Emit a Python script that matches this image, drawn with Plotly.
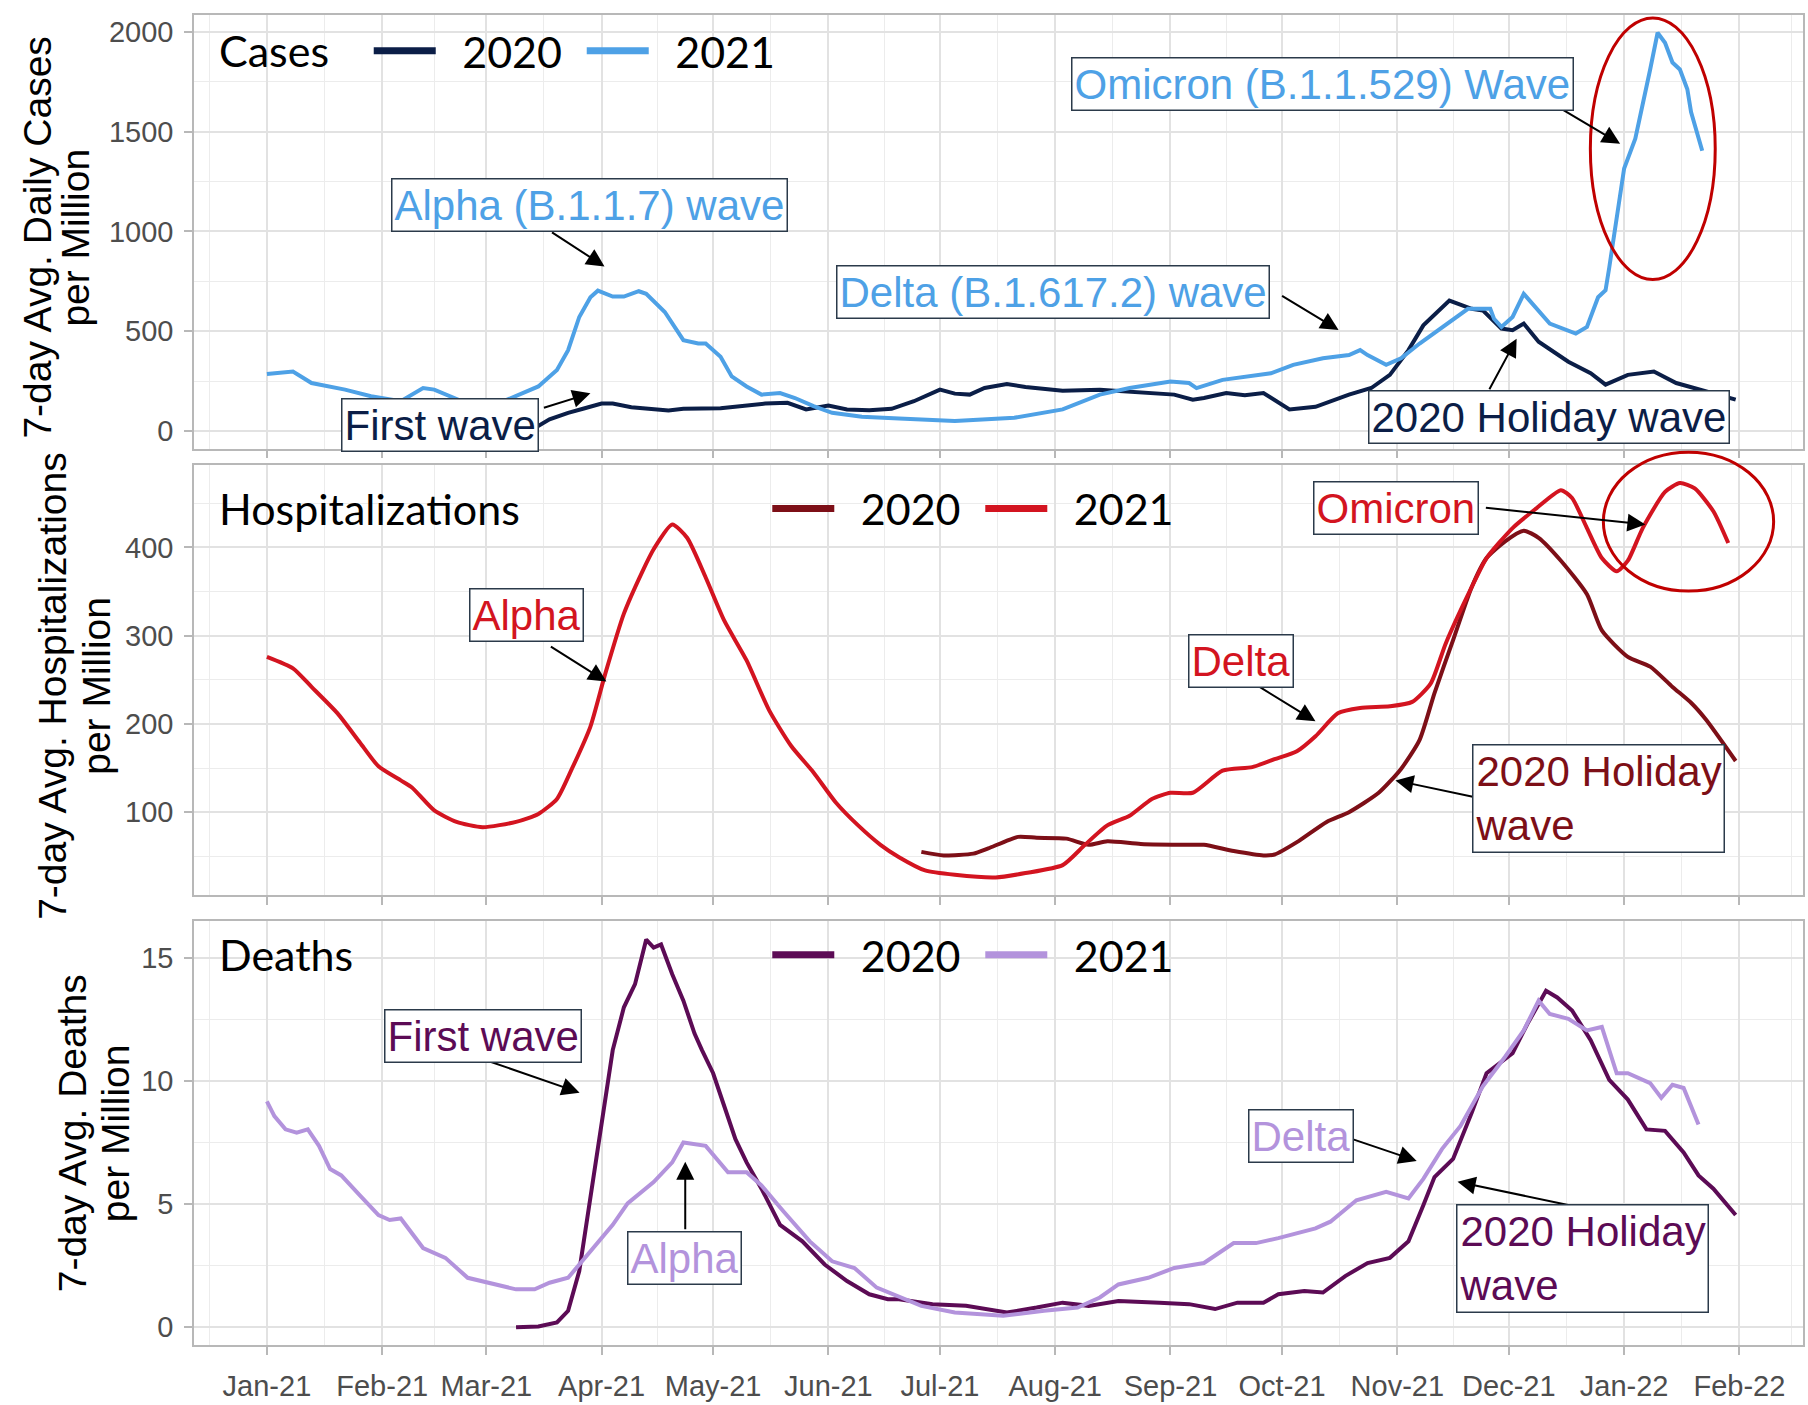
import pandas as pd
import plotly.graph_objects as go
from plotly.subplots import make_subplots

# ------------------------------------------------------------------
# Data: 7-day averages per million. 2020 series are stored on their
# real dates and drawn one year later so both years overlay.
# ------------------------------------------------------------------

CASES_2020_DATES = [
    "2020-03-01", "2020-03-08", "2020-03-12", "2020-03-15", "2020-03-18", "2020-03-23",
    "2020-03-27", "2020-04-01", "2020-04-04", "2020-04-09", "2020-04-19", "2020-04-23",
    "2020-05-03", "2020-05-09", "2020-05-15", "2020-05-21", "2020-05-26", "2020-06-01",
    "2020-06-06", "2020-06-12", "2020-06-18", "2020-06-24", "2020-07-01", "2020-07-05",
    "2020-07-09", "2020-07-13", "2020-07-19", "2020-07-24", "2020-08-03", "2020-08-13",
    "2020-08-24", "2020-09-02", "2020-09-07", "2020-09-10", "2020-09-16", "2020-09-21",
    "2020-09-26", "2020-09-29", "2020-10-03", "2020-10-10", "2020-10-19", "2020-10-25",
    "2020-10-30", "2020-11-04", "2020-11-08", "2020-11-15", "2020-11-21", "2020-11-24",
    "2020-11-29", "2020-12-02", "2020-12-05", "2020-12-09", "2020-12-17", "2020-12-23",
    "2020-12-27", "2021-01-02", "2021-01-09", "2021-01-15", "2021-01-20", "2021-01-25",
    "2021-01-31",
]
CASES_2020 = [
    1, 3, 10, 25, 58, 91, 111, 137, 137, 119, 103, 111, 114, 124, 137, 141, 108, 127,
    108, 104, 111, 149, 207, 187, 182, 215, 235, 220, 202, 207, 194, 182, 157, 165,
    190, 179, 190, 157, 108, 121, 182, 215, 281, 405, 529, 653, 612, 604, 513, 505,
    538, 447, 347, 289, 232, 281, 298, 240, 215, 190, 157,
]

CASES_2021_DATES = [
    "2021-01-01", "2021-01-08", "2021-01-13", "2021-01-22", "2021-01-29", "2021-02-06",
    "2021-02-12", "2021-02-15", "2021-02-22", "2021-03-01", "2021-03-06", "2021-03-09",
    "2021-03-15", "2021-03-20", "2021-03-23", "2021-03-26", "2021-03-29", "2021-03-31",
    "2021-04-04", "2021-04-07", "2021-04-11", "2021-04-13", "2021-04-18", "2021-04-23",
    "2021-04-27", "2021-04-29", "2021-05-03", "2021-05-06", "2021-05-10", "2021-05-14",
    "2021-05-19", "2021-05-23", "2021-05-28", "2021-06-02", "2021-06-10", "2021-06-20",
    "2021-07-05", "2021-07-21", "2021-08-03", "2021-08-13", "2021-08-21", "2021-09-01",
    "2021-09-06", "2021-09-08", "2021-09-15", "2021-09-28", "2021-10-04", "2021-10-12",
    "2021-10-19", "2021-10-22", "2021-10-24", "2021-10-29", "2021-11-02", "2021-11-07",
    "2021-11-13", "2021-11-20", "2021-11-26", "2021-11-27", "2021-11-29", "2021-12-02",
    "2021-12-05", "2021-12-08", "2021-12-12", "2021-12-19", "2021-12-22", "2021-12-25",
    "2021-12-27", "2021-12-28", "2021-12-30", "2022-01-01", "2022-01-04", "2022-01-06",
    "2022-01-08", "2022-01-10", "2022-01-12", "2022-01-14", "2022-01-16", "2022-01-18",
    "2022-01-19", "2022-01-22",
]
CASES_2021 = [
    285, 298, 240, 207, 174, 149, 215, 207, 152, 149, 152, 174, 223, 306, 405, 571,
    670, 703, 673, 673, 700, 687, 596, 455, 438, 438, 372, 273, 223, 182, 190, 165,
    124, 91, 71, 62, 50, 66, 108, 182, 215, 248, 240, 215, 256, 289, 331, 364, 380,
    405, 380, 331, 364, 438, 521, 612, 612, 562, 521, 571, 687, 620, 538, 488, 521,
    670, 705, 819, 1082, 1315, 1464, 1628, 1811, 1995, 1945, 1846, 1811, 1712, 1598,
    1404,
]

HOSP_2020_DATES = [
    "2020-06-26", "2020-07-02", "2020-07-10", "2020-07-14", "2020-07-22", "2020-07-27",
    "2020-08-04", "2020-08-10", "2020-08-15", "2020-08-24", "2020-09-06", "2020-09-10",
    "2020-09-18", "2020-09-26", "2020-09-29", "2020-10-05", "2020-10-13", "2020-10-19",
    "2020-10-27", "2020-11-02", "2020-11-07", "2020-11-11", "2020-11-16", "2020-11-21",
    "2020-11-25", "2020-11-30", "2020-12-05", "2020-12-09", "2020-12-15", "2020-12-22",
    "2020-12-26", "2021-01-02", "2021-01-08", "2021-01-14", "2021-01-19", "2021-01-23",
    "2021-01-31",
]
HOSP_2020 = [
    55, 51, 53, 59, 72, 71, 70, 63, 67, 64, 63, 63, 56, 51, 52, 66, 89, 100, 122, 149,
    182, 235, 295, 355, 388, 407, 419, 411, 385, 347, 306, 276, 265, 242, 224, 205, 158,
]

HOSP_2021_DATES = [
    "2021-01-01", "2021-01-08", "2021-01-13", "2021-01-20", "2021-01-26", "2021-01-31",
    "2021-02-06", "2021-02-09", "2021-02-15", "2021-02-21", "2021-02-28", "2021-03-09",
    "2021-03-15", "2021-03-20", "2021-03-24", "2021-03-29", "2021-04-02", "2021-04-07",
    "2021-04-12", "2021-04-15", "2021-04-20", "2021-04-24", "2021-04-29", "2021-05-04",
    "2021-05-10", "2021-05-16", "2021-05-22", "2021-05-28", "2021-06-03", "2021-06-09",
    "2021-06-15", "2021-06-20", "2021-06-27", "2021-07-05", "2021-07-16", "2021-07-24",
    "2021-08-03", "2021-08-09", "2021-08-15", "2021-08-21", "2021-08-27", "2021-09-01",
    "2021-09-07", "2021-09-15", "2021-09-23", "2021-09-29", "2021-10-05", "2021-10-10",
    "2021-10-16", "2021-10-22", "2021-10-30", "2021-11-05", "2021-11-10", "2021-11-14",
    "2021-11-21", "2021-11-25", "2021-12-02", "2021-12-08", "2021-12-15", "2021-12-18",
    "2021-12-22", "2021-12-26", "2021-12-30", "2022-01-02", "2022-01-06", "2022-01-12",
    "2022-01-16", "2022-01-20", "2022-01-25", "2022-01-29",
]
HOSP_2021 = [
    276, 263, 242, 212, 179, 152, 136, 128, 102, 89, 83, 89, 98, 115, 149, 197, 257,
    325, 373, 398, 426, 411, 366, 317, 272, 216, 175, 145, 111, 85, 63, 49, 34, 29,
    26, 31, 40, 63, 85, 96, 115, 122, 122, 147, 151, 160, 169, 186, 212, 218, 220, 225,
    246, 291, 355, 388, 422, 443, 465, 456, 422, 388, 373, 385, 422, 463, 473, 467,
    441, 405,
]

DEATHS_2020_DATES = [
    "2020-03-09", "2020-03-15", "2020-03-20", "2020-03-23", "2020-03-26", "2020-03-29",
    "2020-04-01", "2020-04-04", "2020-04-07", "2020-04-10", "2020-04-13", "2020-04-15",
    "2020-04-17", "2020-04-20", "2020-04-23", "2020-04-26", "2020-04-28", "2020-05-01",
    "2020-05-04", "2020-05-07", "2020-05-10", "2020-05-14", "2020-05-19", "2020-05-25",
    "2020-05-31", "2020-06-06", "2020-06-12", "2020-06-17", "2020-06-20", "2020-06-29",
    "2020-07-08", "2020-07-19", "2020-07-27", "2020-08-03", "2020-08-10", "2020-08-18",
    "2020-08-29", "2020-09-06", "2020-09-13", "2020-09-19", "2020-09-26", "2020-09-30",
    "2020-10-07", "2020-10-12", "2020-10-18", "2020-10-24", "2020-10-30", "2020-11-04",
    "2020-11-08", "2020-11-11", "2020-11-16", "2020-11-21", "2020-11-25", "2020-12-02",
    "2020-12-06", "2020-12-11", "2020-12-14", "2020-12-18", "2020-12-23", "2020-12-28",
    "2021-01-02", "2021-01-07", "2021-01-12", "2021-01-17", "2021-01-21", "2021-01-25",
    "2021-01-31",
]
DEATHS_2020 = [
    0.0, 0.03, 0.2, 0.67, 2.28, 5.23, 8.45, 11.26, 13.0, 13.94, 15.75, 15.42, 15.55,
    14.34, 13.27, 11.93, 11.26, 10.32, 8.98, 7.64, 6.70, 5.63, 4.16, 3.49, 2.55, 1.88,
    1.34, 1.14, 1.14, 0.94, 0.87, 0.60, 0.80, 1.00, 0.87, 1.07, 1.00, 0.94, 0.74, 1.00,
    1.00, 1.34, 1.47, 1.41, 2.08, 2.61, 2.82, 3.49, 4.96, 6.10, 6.84, 8.71, 10.32,
    11.13, 12.33, 13.67, 13.40, 12.87, 11.66, 10.05, 9.25, 8.04, 7.98, 7.10, 6.17,
    5.63, 4.56,
]

DEATHS_2021_DATES = [
    "2021-01-01", "2021-01-03", "2021-01-06", "2021-01-09", "2021-01-12", "2021-01-15",
    "2021-01-18", "2021-01-21", "2021-01-26", "2021-01-31", "2021-02-03", "2021-02-06",
    "2021-02-12", "2021-02-18", "2021-02-24", "2021-03-03", "2021-03-09", "2021-03-14",
    "2021-03-18", "2021-03-23", "2021-03-26", "2021-03-30", "2021-04-04", "2021-04-08",
    "2021-04-15", "2021-04-20", "2021-04-23", "2021-04-29", "2021-05-05", "2021-05-10",
    "2021-05-14", "2021-05-20", "2021-05-27", "2021-06-02", "2021-06-08", "2021-06-14",
    "2021-06-20", "2021-06-26", "2021-07-05", "2021-07-18", "2021-07-29", "2021-08-07",
    "2021-08-13", "2021-08-18", "2021-08-26", "2021-09-02", "2021-09-10", "2021-09-18",
    "2021-09-24", "2021-09-30", "2021-10-10", "2021-10-14", "2021-10-21", "2021-10-29",
    "2021-11-04", "2021-11-08", "2021-11-13", "2021-11-18", "2021-11-24", "2021-11-30",
    "2021-12-05", "2021-12-09", "2021-12-12", "2021-12-17", "2021-12-22", "2021-12-26",
    "2021-12-30", "2022-01-02", "2022-01-08", "2022-01-11", "2022-01-14", "2022-01-17",
    "2022-01-21",
]
DEATHS_2021 = [
    9.18, 8.58, 8.04, 7.91, 8.04, 7.37, 6.43, 6.17, 5.36, 4.56, 4.36, 4.42, 3.22, 2.82,
    2.01, 1.74, 1.54, 1.54, 1.81, 2.01, 2.55, 3.22, 4.16, 5.03, 5.90, 6.70, 7.51, 7.37,
    6.30, 6.30, 5.76, 4.69, 3.49, 2.68, 2.41, 1.61, 1.25, 0.87, 0.60, 0.47, 0.67, 0.80,
    1.21, 1.74, 2.01, 2.41, 2.61, 3.42, 3.42, 3.62, 4.02, 4.29, 5.16, 5.50, 5.23, 6.03,
    7.24, 8.18, 9.79, 10.99, 12.06, 13.27, 12.73, 12.53, 12.06, 12.20, 10.32, 10.32,
    9.92, 9.32, 9.85, 9.72, 8.24,
]

MONTH_TICKS = pd.date_range("2021-01-01", "2022-02-01", freq="MS")

# colours
C20, C21 = "#0b1e47", "#4ea1e6"
H20, H21 = "#7d0f17", "#d31420"
D20, D21 = "#5c0b55", "#b393dc"

FONT = "Liberation Sans, Arial, sans-serif"
LEG_FONT = "Lato, Calibri, sans-serif"
X_RANGE = [pd.Timestamp("2020-12-12 09:20"), pd.Timestamp("2022-02-18 02:30")]
PAD = "\u2002"  # gap between legend key and label

PANELS = [
    dict(name="Cases", d20=CASES_2020_DATES, v20=CASES_2020, d21=CASES_2021_DATES, v21=CASES_2021,
         c20=C20, c21=C21, yrange=[-89, 2084], dtick=500, shape="linear",
         ytitle=["7-day Avg. Daily Cases", "per Million"], ytitle_x=[-0.0975, -0.0739], ytitle_y=0.487,
         title_y=0.973, legend_x=0.1086),
    dict(name="Hospitalizations", d20=HOSP_2020_DATES, v20=HOSP_2020, d21=HOSP_2021_DATES, v21=HOSP_2021,
         c20=H20, c21=H21, yrange=[5.6, 494], dtick=100, shape="spline",
         ytitle=["7-day Avg. Hospitalizations", "per Million"], ytitle_x=[-0.0881, -0.0608], ytitle_y=0.487,
         title_y=0.629, legend_x=0.3563),
    dict(name="Deaths", d20=DEATHS_2020_DATES, v20=DEATHS_2020, d21=DEATHS_2021_DATES, v21=DEATHS_2021,
         c20=D20, c21=D21, yrange=[-0.72, 16.5], dtick=5, shape="linear",
         ytitle=["7-day Avg. Deaths", "per Million"], ytitle_x=[-0.0757, -0.0490], ytitle_y=0.5,
         title_y=0.2934, legend_x=0.3563),
]
Y_DOMAINS = [[0.6739, 1.0], [0.3380, 0.6620], [0.0, 0.3187]]

# call-outs: row, text, colour, box centre (date, value), arrow tip (date, value), tail offset px
CALLOUTS = [
    (1, "Alpha (B.1.1.7) wave", C21, "2021-03-28 19:00", 1131, "2021-04-01 19:00", 824, -54, -35),
    (1, "Omicron (B.1.1.529) Wave", C21, "2021-10-12", 1737, "2021-12-30 22:00", 1439, -59, -35),
    (1, "Delta (B.1.617.2) wave", C21, "2021-07-31 10:00", 695, "2021-10-16 05:00", 506, -58, -35),
    (1, "First wave", C20, "2021-02-16 14:00", 32, "2021-03-29", 189, -48, 15),
    (1, "2020 Holiday wave", C20, "2021-12-11 17:00", 72, "2021-12-03 02:00", 462, -28, 52),
    (2, "Alpha", H21, "2021-03-11 17:00", 323, "2021-04-02 07:00", 248, -57, -36),
    (2, "Delta", H21, "2021-09-19 22:00", 271, "2021-10-10", 203, -57, -35),
    (2, "Omicron", H21, "2021-10-31 14:00", 445, "2022-01-06 17:00", 426, -161, -17),
    (2, "2020 Holiday<br>wave", H20, "2021-12-25 05:00", 116, "2021-10-31 12:00", 136, 80, 17),
    (3, "First wave", D20, "2021-02-28", 11.84, "2021-03-26 02:00", 9.53, -98, -34),
    (3, "Alpha", D21, "2021-04-23 10:00", 2.82, "2021-04-23 12:00", 6.72, 0, 69),
    (3, "Delta", D21, "2021-10-06", 7.78, "2021-11-06 05:00", 6.76, -65, -22),
    (3, "2020 Holiday<br>wave", D20, "2021-12-20 17:00", 2.78, "2021-11-17 05:00", 5.91, 124, 26),
]

# red rings around the Omicron surge: row, x0, x1, y0, y1
RINGS = [
    (1, "2021-12-22 22:00", "2022-01-25 12:00", 759, 2069),
    (2, "2021-12-26 10:00", "2022-02-10 05:00", 350.6, 508),
]


def shift_year(dates):
    return pd.to_datetime(dates) + pd.DateOffset(years=1)


def xfrac(t):
    return (pd.Timestamp(t) - X_RANGE[0]) / (X_RANGE[1] - X_RANGE[0])


fig = make_subplots(rows=3, cols=1, shared_xaxes=True)

for i, p in enumerate(PANELS):
    row = i + 1
    s = "" if row == 1 else str(row)
    leg = "legend" + s
    fig.add_trace(go.Scatter(
        x=shift_year(p["d20"]), y=p["v20"], mode="lines", name="2020", showlegend=False,
        line=dict(color=p["c20"], width=4, shape=p["shape"], smoothing=0.6),
    ), row=row, col=1)
    fig.add_trace(go.Scatter(
        x=pd.to_datetime(p["d21"]), y=p["v21"], mode="lines", name="2021", showlegend=False,
        line=dict(color=p["c21"], width=4, shape=p["shape"], smoothing=0.6),
    ), row=row, col=1)
    # legend keys drawn thicker than the data lines
    for name, col in (("2020", p["c20"]), ("2021", p["c21"])):
        fig.add_trace(go.Scatter(
            x=[None], y=[None], mode="lines", name=PAD + name, legend=leg,
            line=dict(color=col, width=7), hoverinfo="skip",
        ), row=row, col=1)

    fig.update_yaxes(
        row=row, col=1, domain=Y_DOMAINS[i], range=p["yrange"], dtick=p["dtick"],
        minor=dict(dtick=p["dtick"] / 2, showgrid=True, gridcolor="#ececec", gridwidth=1),
        ticklabelstandoff=5,
    )
    # two-line y title, tight line spacing like the original
    for text, tx in zip(p["ytitle"], p["ytitle_x"]):
        fig.add_annotation(
            xref="paper", yref=f"y{s} domain", x=tx, y=p["ytitle_y"], textangle=-90,
            xanchor="center", yanchor="middle", text=text, showarrow=False,
            font=dict(family=FONT, size=39, color="black"),
        )
    fig.add_annotation(
        xref="paper", yref="paper", x=0.0143, y=p["title_y"], xanchor="left", yanchor="middle",
        text=p["name"], showarrow=False, font=dict(family=LEG_FONT, size=43, color="black"),
    )
    fig.update_layout({leg: dict(
        x=p["legend_x"], y=p["title_y"], xanchor="left", yanchor="middle", orientation="h",
        font=dict(family=LEG_FONT, size=43, color="black"), bgcolor="rgba(0,0,0,0)",
        itemwidth=62, entrywidth=136, entrywidthmode="pixels",
    )})

months = pd.date_range("2020-12-01", "2022-03-01", freq="MS")
mid_months = months[:-1] + (months[1:] - months[:-1]) / 2

fig.update_xaxes(
    type="date", range=[str(X_RANGE[0]), str(X_RANGE[1])],
    tickvals=MONTH_TICKS, tickformat="%b-%y", ticklabelstandoff=6,
    minor=dict(tickmode="array", tickvals=list(mid_months), showgrid=True,
               gridcolor="#ececec", gridwidth=1),
)
fig.update_xaxes(showticklabels=False, row=1, col=1)
fig.update_xaxes(showticklabels=False, row=2, col=1)
fig.update_xaxes(showticklabels=True, row=3, col=1)

axis_style = dict(
    showgrid=True, gridcolor="#e2e2e2", gridwidth=1.6, zeroline=False,
    showline=True, mirror=True, linecolor="#b8b8b8", linewidth=1.5,
    ticks="outside", ticklen=8, tickwidth=1.5, tickcolor="#b8b8b8",
    tickfont=dict(family=FONT, size=29, color="#4d4d4d"),
)
fig.update_xaxes(**axis_style)
fig.update_yaxes(**axis_style)

for row, text, col, bx, by, tx, ty, ax, ay in CALLOUTS:
    s = "" if row == 1 else str(row)
    fig.add_annotation(
        xref=f"x{s}", yref=f"y{s}", x=tx, y=ty, ax=ax, ay=ay, text="",
        showarrow=True, arrowhead=2, arrowsize=1.8, arrowwidth=2, arrowcolor="black",
    )
    fig.add_annotation(
        xref=f"x{s}", yref=f"y{s}", x=bx, y=by, text=text, showarrow=False,
        xanchor="center", yanchor="middle", align="left",
        font=dict(family=FONT, size=42, color=col),
        bgcolor="white", bordercolor="#2b3a4a", borderwidth=1.5, borderpad=2,
    )

for row, x0, x1, y0, y1 in RINGS:
    s = "" if row == 1 else str(row)
    r0, r1 = PANELS[row - 1]["yrange"]
    fig.add_shape(
        type="circle", xref=f"x{s} domain", yref=f"y{s} domain",
        x0=xfrac(x0), x1=xfrac(x1), y0=(y0 - r0) / (r1 - r0), y1=(y1 - r0) / (r1 - r0),
        line=dict(color="#c00000", width=3),
    )

fig.update_layout(
    width=1808, height=1405,
    margin=dict(l=194, r=3, t=15, b=47),
    plot_bgcolor="white", paper_bgcolor="white",
    font=dict(family=FONT),
)

# the page's default body margin would push the figure off its canvas
fig.write_html(
    "out.html",
    config={"displayModeBar": False},
    post_script="document.body.style.margin = '0';",
)
